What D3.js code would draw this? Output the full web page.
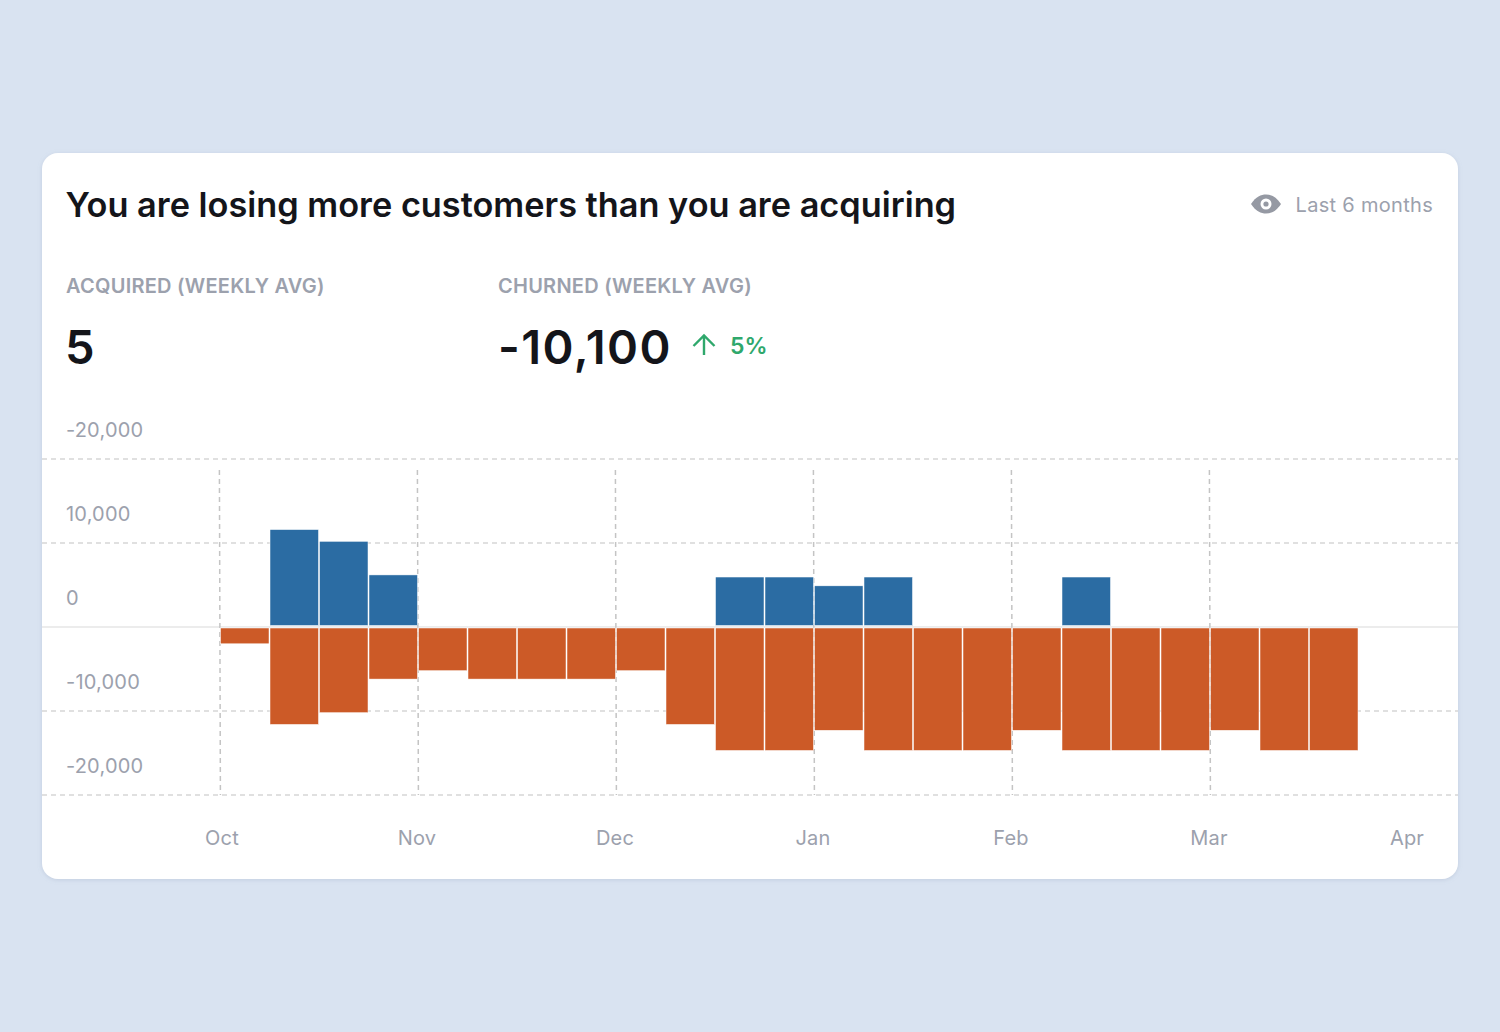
<!DOCTYPE html>
<html>
<head>
<meta charset="utf-8">
<script src="https://cdn.jsdelivr.net/npm/d3@7"></script>
<style>
    html, body { margin: 0; padding: 0; background: #d9e3f1; }
    svg { display: block; }
    text { font-family: Inter, "Noto Sans", sans-serif; }
    .tick text { font-size: 20px; fill: #9ca1ad; letter-spacing: 0.2px; }
    .domain { display: none; }
</style>
</head>
<body>
<svg id="chart" width="1500" height="1032"></svg>
<script>
    var months = ["Oct", "Nov", "Dec", "Jan", "Feb", "Mar", "Apr"];
    var yTicks = [20000, 10000, 0, -10000, -20000];
    // the top label really does read -20,000 in the reference
    var yLabels = ["-20,000", "10,000", "0", "-10,000", "-20,000"];

    var acquired = [0, 11600, 10200, 6200, 0, 0, 0, 0, 0, 0, 5950, 5950, 4900, 5950, 0, 0, 0, 5950, 0, 0, 0, 0, 0];
    var churned = [-2000, -11600, -10200, -6200, -5200, -6200, -6200, -6200, -5200, -11600, -14700, -14700, -12300,
        -14700, -14700, -14700, -12300, -14700, -14700, -14700, -12300, -14700, -14700];

    var svg = d3.select('#chart');

    var card = { x: 42, y: 153, w: 1416, h: 726 };

    var defs = svg.append('defs');
    var shadow = defs.append('filter').attr('id', 'card-shadow')
        .attr('x', '-5%').attr('y', '-5%').attr('width', '110%').attr('height', '110%');
    shadow.append('feDropShadow').attr('dx', 0).attr('dy', 1).attr('stdDeviation', 2)
        .attr('flood-color', '#8a9ab5').attr('flood-opacity', 0.3);

    svg.append('rect')
        .attr('x', card.x).attr('y', card.y)
        .attr('width', card.w).attr('height', card.h)
        .attr('rx', 16)
        .attr('fill', '#fff')
        .attr('filter', 'url(#card-shadow)');

    // header
    svg.append('text').attr('x', 65.5).attr('y', 217)
        .attr('font-size', 34.3).attr('font-weight', 600).attr('fill', '#14151a')
        .text('You are losing more customers than you are acquiring');

    // eye icon
    var eye = svg.append('g').attr('transform', 'translate(1266,204)');
    eye.append('path')
        .attr('d', 'M-15,0 C-10,-7.5 -5,-9.5 0,-9.5 C5,-9.5 10,-7.5 15,0 C10,7.5 5,9.5 0,9.5 C-5,9.5 -10,7.5 -15,0 Z')
        .attr('fill', '#9599a3');
    eye.append('circle').attr('r', 5.5).attr('fill', '#fff');
    eye.append('circle').attr('r', 2.6).attr('fill', '#9599a3');

    svg.append('text').attr('x', 1433).attr('y', 212)
        .attr('text-anchor', 'end')
        .attr('font-size', 20).attr('letter-spacing', 0.3).attr('fill', '#9ca1ad')
        .text('Last 6 months');

    // stats
    svg.append('text').attr('x', 66).attr('y', 293)
        .attr('font-size', 20).attr('font-weight', 600).attr('letter-spacing', 0.25).attr('fill', '#9ca1ad')
        .text('ACQUIRED (WEEKLY AVG)');
    svg.append('text').attr('x', 498).attr('y', 293)
        .attr('font-size', 20).attr('font-weight', 600).attr('letter-spacing', 0.25).attr('fill', '#9ca1ad')
        .text('CHURNED (WEEKLY AVG)');
    svg.append('text').attr('x', 65).attr('y', 364)
        .attr('font-size', 47).attr('font-weight', 600).attr('fill', '#14151a')
        .text('5');
    svg.append('text').attr('x', 498).attr('y', 364)
        .attr('font-size', 47).attr('font-weight', 600).attr('letter-spacing', 1.4).attr('fill', '#14151a')
        .text('-10,100');

    // up arrow
    svg.append('path')
        .attr('d', 'M704,355 V336 M693.5,346 L704,335.5 L714.5,346')
        .attr('fill', 'none').attr('stroke', '#2fa86c').attr('stroke-width', 2.4);
    svg.append('text').attr('x', 730).attr('y', 354)
        .attr('font-size', 23).attr('font-weight', 600).attr('fill', '#2fa86c')
        .text('5%');

    // scales
    var x = d3.scaleLinear().domain([0, 24]).range([220, 1408]);
    var y = d3.scaleLinear().domain([20000, -20000]).range([459, 795]);

    // horizontal grid + y labels
    var yAxis = d3.axisRight(y)
        .tickValues(yTicks)
        .tickSize(1416)
        .tickFormat(function (d, i) { return yLabels[i]; });

    var yGroup = svg.append('g').attr('transform', 'translate(42,-0.5)').call(yAxis);
    yGroup.selectAll('.tick line')
        .attr('stroke', function (d) { return d === 0 ? '#e6e6e6' : '#d6d6d6'; })
        .attr('stroke-width', 1.5)
        .attr('stroke-dasharray', function (d) { return d === 0 ? null : '5 4'; });
    yGroup.selectAll('.tick text')
        .attr('x', 24).attr('dy', -22)
        .attr('text-anchor', 'start');

    // vertical month lines + month labels
    var monthValues = months.map(function (m, i) { return i * 4; });

    var xAxis = d3.axisBottom(x)
        .tickValues(monthValues)
        .tickSize(0)
        .tickFormat(function (d, i) { return months[i]; });

    var xGroup = svg.append('g').attr('transform', 'translate(-1.5,795)').call(xAxis);
    xGroup.selectAll('.tick text')
        .attr('x', function (d) { return d === 0 ? 3 : 0; })
        .attr('y', 50).attr('dy', 0);

    svg.append('g').selectAll('line')
        .data(monthValues.slice(0, 6))
        .join('line')
        .attr('x1', function (d) { return x(d) - 0.6; })
        .attr('x2', function (d) { return x(d) + 0.4; })
        .attr('y1', 470)
        .attr('y2', y(-20000))
        .attr('stroke', '#c4c4c4')
        .attr('stroke-width', 1.5)
        .attr('stroke-dasharray', '5 4');

    // bars
    var barGap = 1;
    var barWidth = x(1) - x(0);

    svg.append('g').selectAll('rect')
        .data(acquired.map(function (v, i) { return { i: i, v: v }; }).filter(function (d) { return d.v > 0; }))
        .join('rect')
        .attr('x', function (d) { return x(d.i) + barGap / 2; })
        .attr('y', function (d) { return y(d.v); })
        .attr('width', barWidth - barGap)
        .attr('height', function (d) { return y(0) - y(d.v) - 1.5; })
        .attr('fill', '#2b6ca3')
        .attr('stroke', '#fff')
        .attr('stroke-width', 0.5);

    svg.append('g').selectAll('rect')
        .data(churned)
        .join('rect')
        .attr('x', function (d, i) { return x(i) + barGap / 2; })
        .attr('y', y(0) + 1)
        .attr('width', barWidth - barGap)
        .attr('height', function (d) { return y(d) - y(0) - 1; })
        .attr('fill', '#cc5a27')
        .attr('stroke', '#fff')
        .attr('stroke-width', 0.5);
</script>
</body>
</html>
